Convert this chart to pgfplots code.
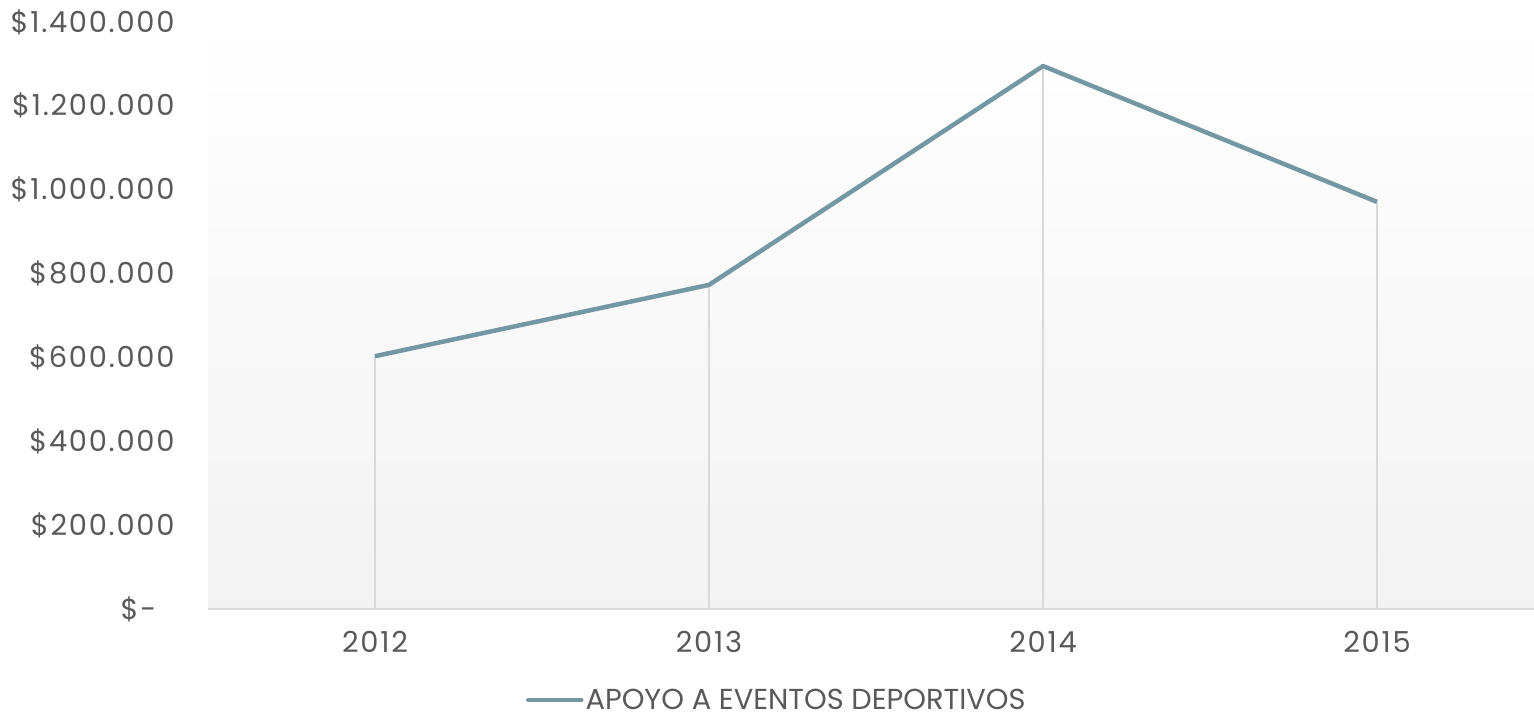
\documentclass[border=0pt]{standalone}
\usepackage{pgfplots}
\pgfplotsset{compat=1.18}
\usepackage{fontspec}
\setmainfont{Poppins}
\newfontfamily\tickfont[LetterSpace=6]{Poppins}
\definecolor{linec}{HTML}{7398A4}
\definecolor{txt}{HTML}{595959}
\definecolor{gridc}{HTML}{D9D9D9}
\begin{document}
\begin{tikzpicture}
\begin{axis}[
  scale only axis,
  width=1326bp, height=587bp,
  xmin=-0.5, xmax=3.47,
  ymin=0, ymax=1400000,
  scaled y ticks=false,
  axis lines*=left,
  y axis line style={draw=none},
  x axis line style={draw=gridc, line width=1.5bp},
  major tick length=0,
  xtick={0,1,2,3},
  xticklabels={2012,2013,2014,2015},
  ytick={0,200000,400000,600000,800000,1000000,1200000,1400000},
  yticklabels={\$-\phantom{0},\$200.000,\$400.000,\$600.000,\$800.000,\$1.000.000,\$1.200.000,\$1.400.000},
  tick label style={font=\tickfont\fontsize{29}{34}\selectfont, text=txt},
  yticklabel style={xshift=-30bp},
  xticklabel style={yshift=-19bp},
  axis background/.style={shade, top color=white, bottom color=black!5},
  legend style={at={(0.429,-0.155)}, anchor=center, draw=none, fill=none,
    font=\fontsize{29}{34}\selectfont, text=txt},
  legend image code/.code={\draw[line width=4.5bp, linec, line cap=round] (0,0) -- (53bp,0);},
]
\addplot[ycomb, gridc, line width=1.5bp, forget plot] coordinates {(0,603000) (1,773000) (2,1295000) (3,971000)};
\addplot[linec, line width=4.5bp, line join=round] coordinates {(0,603000) (1,773000) (2,1295000) (3,971000)};
\addlegendentry{APOYO A EVENTOS DEPORTIVOS}
\coordinate (bl) at (rel axis cs:0,0);
\coordinate (tr) at (rel axis cs:1,1);
\end{axis}
\pgfresetboundingbox
\path ([shift={(-208bp,-109bp)}]bl) rectangle ([shift={(0bp,22bp)}]tr);
\end{tikzpicture}
\end{document}
